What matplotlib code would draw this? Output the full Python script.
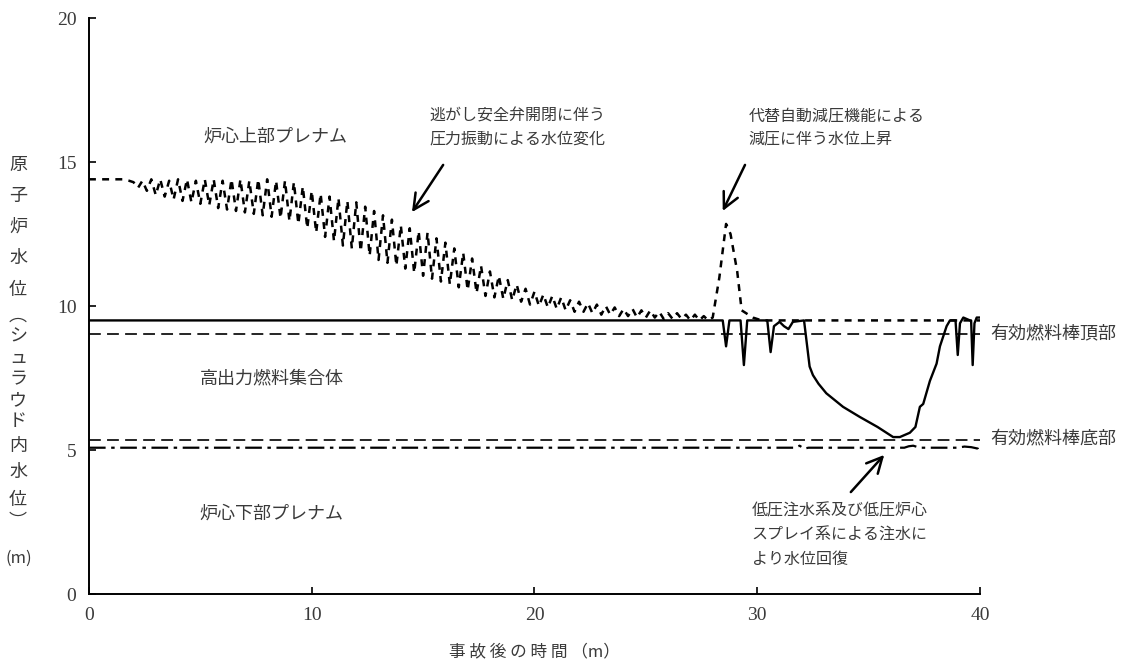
import numpy as np
import matplotlib
matplotlib.use("Agg")
import matplotlib.pyplot as plt

plt.rcParams['lines.scale_dashes'] = False
JP = ['Noto Sans CJK JP', 'DejaVu Sans']
NUM = 'Liberation Serif'
TXT = '#3a3a3a'

# ---- data (min, m) ----
# outside-shroud level: flat start, SRV oscillation, ADS spike, flat
head_t = [0.0, 1.5, 1.8]
head_v = [14.4, 14.4, 14.35]
osc_start, osc_step = 2.0, 0.2
osc_peaks = [14.30, 14.35, 14.40, 14.40, 14.35, 14.40, 14.40, 14.35, 14.40, 14.40,
             14.35, 14.40, 14.40, 14.35, 14.40, 14.40, 14.35, 14.35, 14.30, 14.15,
             14.00, 13.90, 13.80, 13.75, 13.65, 13.60, 13.45, 13.30, 13.15, 13.00,
             12.80, 12.70, 12.60, 12.55, 12.35, 12.20, 12.00, 11.85, 11.65, 11.40,
             11.20, 11.05, 10.90, 10.75, 10.60, 10.50, 10.40, 10.35, 10.30, 10.20,
             10.15, 10.10, 10.05, 10.00, 9.95, 9.90, 9.90, 9.85, 9.85, 9.80,
             9.75, 9.75, 9.70, 9.70, 9.65, 9.60]
osc_troughs = [14.10, 14.00, 13.85, 13.80, 13.70, 13.65, 13.60, 13.55, 13.50, 13.40,
               13.35, 13.30, 13.25, 13.20, 13.15, 13.10, 13.05, 12.95, 12.85, 12.70,
               12.55, 12.40, 12.25, 12.10, 12.00, 11.90, 11.75, 11.60, 11.50, 11.40,
               11.30, 11.15, 11.05, 10.95, 10.85, 10.75, 10.65, 10.55, 10.45, 10.35,
               10.30, 10.25, 10.20, 10.15, 10.05, 10.00, 9.95, 9.90, 9.85, 9.80,
               9.80, 9.75, 9.70, 9.70, 9.65, 9.65, 9.60, 9.60, 9.60, 9.55,
               9.55, 9.55, 9.50, 9.50, 9.50]
tail_t = [28.3, 28.6, 28.8, 29.1, 29.3, 29.8, 30.2, 40.0]
tail_v = [11.0, 12.85, 12.5, 11.2, 9.85, 9.6, 9.5, 9.5]

# shroud water level (solid)
shroud_t = [0, 28.45, 28.6, 28.75, 29.25, 29.4, 29.55, 30.45, 30.6, 30.75, 31.0,
            31.2, 31.4, 31.6, 32.1, 32.35, 32.5, 32.75, 33.1, 33.85, 34.6, 35.4,
            36.1, 36.4, 36.85, 37.1, 37.3, 37.45, 37.75, 38.05, 38.2, 38.5, 38.65,
            38.9, 39.0, 39.1, 39.25, 39.55, 39.6, 39.67, 39.75, 39.85, 40.0]
shroud_v = [9.5, 9.5, 8.6, 9.5, 9.5, 7.95, 9.5, 9.5, 8.4, 9.3, 9.45,
            9.3, 9.2, 9.45, 9.5, 7.9, 7.6, 7.3, 6.97, 6.5, 6.15, 5.8,
            5.45, 5.45, 5.6, 5.8, 6.5, 6.6, 7.4, 8.0, 8.6, 9.3, 9.5,
            9.5, 8.3, 9.4, 9.6, 9.5, 9.5, 7.95, 9.4, 9.6, 9.6]

# lower plenum level (dash-dot)
lp_t = [0, 31.7, 31.9, 32.1, 32.3, 36.6, 36.8, 37.0, 37.3, 39.0, 39.3, 39.6, 39.9, 40.0]
lp_v = [5.08, 5.08, 5.15, 5.05, 5.08, 5.08, 5.13, 5.15, 5.08, 5.08, 5.12, 5.1, 5.05, 4.85]

taf = 9.03
baf = 5.35

# assemble oscillating series
osc_v = np.empty(len(osc_peaks) + len(osc_troughs))
osc_v[0::2] = osc_peaks
osc_v[1::2] = osc_troughs
osc_t = osc_start + osc_step * np.arange(len(osc_v))
out_t = np.concatenate([head_t, osc_t, tail_t])
out_v = np.concatenate([head_v, osc_v, tail_v])

fig = plt.figure(figsize=(11.36, 6.7), dpi=100)
ax = fig.add_axes([0.0783, 0.1134, 0.7844, 0.8597])

ax.axhline(taf, color='black', lw=1.2, ls=(0, (8.5, 4.5)))
ax.axhline(baf, color='black', lw=1.2, ls=(0, (8.5, 4.5)))
ax.plot(lp_t, lp_v, color='black', lw=1.6, ls=(0, (12, 4, 2.5, 4)))
ax.plot(shroud_t, shroud_v, color='black', lw=1.7)
ax.plot(out_t, out_v, color='black', lw=1.8, ls=(0, (5, 4.5)))

ax.set_xlim(0, 40)
ax.set_ylim(0, 20)
ax.set_xticks([0, 10, 20, 30, 40])
ax.set_yticks([0, 5, 10, 15, 20])
for s in ['top', 'right']:
    ax.spines[s].set_visible(False)
for s in ['left', 'bottom']:
    ax.spines[s].set_linewidth(1.4)
ax.tick_params(direction='in', length=5, width=1.2, labelsize=14, colors='black',
               labelcolor=TXT, pad=9)
for lab in ax.get_xticklabels() + ax.get_yticklabels():
    lab.set_family(NUM)

# region labels
ax.text(8.35, 15.87, '炉心上部プレナム', family=JP, fontsize=13, color=TXT, ha='center', va='center')
ax.text(8.2, 7.5, '高出力燃料集合体', family=JP, fontsize=13, color=TXT, ha='center', va='center')
ax.text(8.2, 2.8, '炉心下部プレナム', family=JP, fontsize=13, color=TXT, ha='center', va='center')
ax.text(40.45, 9.05, '有効燃料棒頂部', family=JP, fontsize=13, color=TXT, ha='left', va='center', clip_on=False)
ax.text(40.45, 5.42, '有効燃料棒底部', family=JP, fontsize=13, color=TXT, ha='left', va='center', clip_on=False)

# annotations
ax.text(15.3, 16.2, '逃がし安全弁開閉に伴う\n圧力振動による水位変化', family=JP, fontsize=11.5,
        color=TXT, ha='left', va='center', linespacing=1.5)
ax.text(29.6, 16.2, '代替自動減圧機能による\n減圧に伴う水位上昇', family=JP, fontsize=11.5,
        color=TXT, ha='left', va='center', linespacing=1.5)
ax.text(29.75, 2.05, '低圧注水系及び低圧炉心\nスプレイ系による注水に\nより水位回復', family=JP,
        fontsize=11.5, color=TXT, ha='left', va='center', linespacing=1.55)

arrow = dict(arrowstyle='->', color='black', lw=1.8, mutation_scale=28, shrinkA=0, shrinkB=0)
ax.annotate('', xy=(14.5, 13.26), xytext=(15.9, 14.9), arrowprops=arrow)
ax.annotate('', xy=(28.45, 13.3), xytext=(29.45, 14.9), arrowprops=arrow)
ax.annotate('', xy=(35.7, 4.83), xytext=(34.2, 3.54), arrowprops=arrow)

# vertical y label
ylab = [('原', 165), ('子', 196), ('炉', 227), ('水', 258), ('位', 290), ('︵', 316),
        ('シ', 337), ('ュ', 358), ('ラ', 379), ('ウ', 400), ('ド', 421), ('内', 446),
        ('水', 472), ('位', 500), ('︶', 522)]
for ch, py in ylab:
    fig.text(18 / 1136, 1 - py / 670, ch, family=JP, fontsize=13, color=TXT,
             ha='center', va='center')
fig.text(19 / 1136, 1 - 558 / 670, '(m)', family=JP, fontsize=12, color=TXT,
         ha='center', va='center')

fig.text(534 / 1136, 1 - 652 / 670, '事 故 後 の 時 間 （m）', family=JP, fontsize=12,
         color=TXT, ha='center', va='center')

fig.savefig('out.png', dpi=100, facecolor='white')
